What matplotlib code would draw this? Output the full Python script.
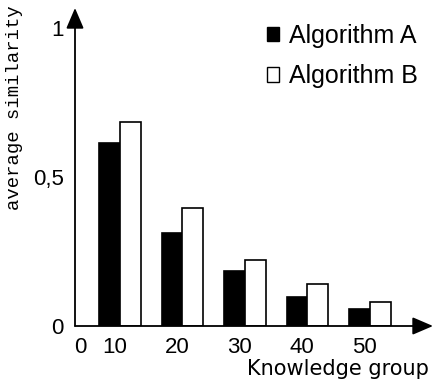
import matplotlib
matplotlib.use("Agg")
import matplotlib.pyplot as plt
from matplotlib.patches import Patch

# Data
groups = [10, 20, 30, 40, 50]
group_labels = ["10", "20", "30", "40", "50"]
algo_a = [0.614, 0.312, 0.185, 0.097, 0.057]
algo_b = [0.685, 0.396, 0.221, 0.141, 0.081]
series_names = ["Algorithm A", "Algorithm B"]
y_ticks = [0, 0.5, 1]
y_tick_labels = ["0", "0,5", "1"]

W, H, DPI = 437, 381, 100
fig = plt.figure(figsize=(W / DPI, H / DPI), dpi=DPI)
fig.patch.set_facecolor("white")

# axes box in pixels: left 75, right 433, bottom line at 326, top at 8
ax = fig.add_axes([75 / W, (H - 326) / H, (433 - 75) / W, (326 - 8) / H])
ax.set_xlim(2.8, 60.1)
ax.set_ylim(0, 1.067)

sans = "Liberation Sans"
bw = 3.3
ax.bar([g - bw / 2 for g in groups], algo_a, width=bw, color="black",
       edgecolor="black", linewidth=1.2, zorder=3)
ax.bar([g + bw / 2 for g in groups], algo_b, width=bw, color="white",
       edgecolor="black", linewidth=1.2, zorder=3)

for s in ["top", "right", "left", "bottom"]:
    ax.spines[s].set_visible(False)

# axis lines with arrow heads
arrow = dict(arrowstyle="-|>,head_length=0.7,head_width=0.3", color="black",
             lw=1.3, shrinkA=0, shrinkB=0, mutation_scale=18)
ax.annotate("", xy=(1, 0), xytext=(0, 0), xycoords="axes fraction",
            arrowprops=arrow, annotation_clip=False)
ax.annotate("", xy=(0, 1), xytext=(0, 0), xycoords="axes fraction",
            arrowprops=arrow, annotation_clip=False)

# x tick labels sit slightly left of each group centre
ax.set_xticks([3.6] + [g - 0.9 for g in groups])
ax.set_xticklabels(["0"] + group_labels, fontname=sans, fontsize=16)
ax.tick_params(axis="x", length=0, pad=8)

ax.set_yticks(y_ticks)
ax.set_yticklabels(y_tick_labels, fontname=sans, fontsize=16)
ax.tick_params(axis="y", length=0, pad=8)

fig.text(338 / W, 1 - 369 / H, "Knowledge group", fontname="DejaVu Sans",
         fontsize=15, ha="center", va="center")
fig.text(15 / W, 1 - 108 / H, "average similarity", fontname="Liberation Mono",
         fontsize=13.6, rotation=90, ha="center", va="center")

handles = [Patch(facecolor="black", edgecolor="black", lw=1.0),
           Patch(facecolor="white", edgecolor="black", lw=1.0)]
ax.legend(handles, series_names, loc="upper left",
          bbox_to_anchor=(249 / W, 1 - 6 / H), bbox_transform=fig.transFigure,
          frameon=False, prop={"family": sans, "size": 18},
          handlelength=0.5, handleheight=0.5, handletextpad=0.4,
          labelspacing=0.67, borderpad=0.2)

fig.savefig("out.png", dpi=DPI, facecolor="white")
